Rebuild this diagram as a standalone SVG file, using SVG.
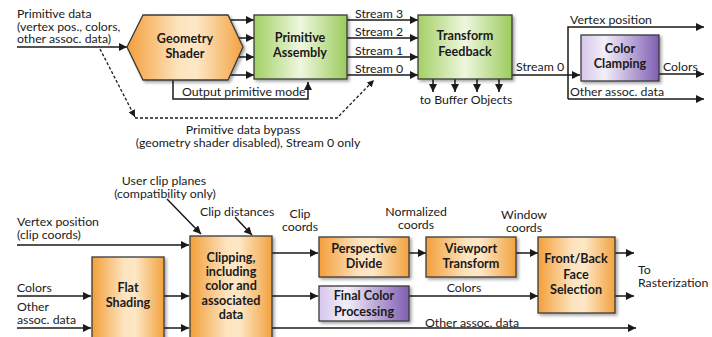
<svg xmlns="http://www.w3.org/2000/svg" width="712" height="337" viewBox="0 0 712 337">
<defs>
<linearGradient id="gOr" x1="0" y1="0" x2="1" y2="0">
<stop offset="0" stop-color="#f39f3a"/><stop offset="0.45" stop-color="#fde4c0"/><stop offset="0.6" stop-color="#fde7c6"/><stop offset="1" stop-color="#f3a240"/>
</linearGradient>
<linearGradient id="gGr" x1="0" y1="0" x2="1" y2="0">
<stop offset="0" stop-color="#a3d065"/><stop offset="0.5" stop-color="#eef7df"/><stop offset="1" stop-color="#9ccb5c"/>
</linearGradient>
<linearGradient id="gPu" x1="0" y1="0" x2="1" y2="0">
<stop offset="0" stop-color="#d5c6eb"/><stop offset="0.3" stop-color="#f3eff9"/><stop offset="1" stop-color="#7f5eb3"/>
</linearGradient>
<filter id="sh" x="-10%" y="-10%" width="130%" height="130%">
<feDropShadow dx="2" dy="2" stdDeviation="1.5" flood-color="#000" flood-opacity="0.35"/>
</filter>
<marker id="ah" markerUnits="userSpaceOnUse" markerWidth="9" markerHeight="9" refX="8" refY="4" orient="auto">
<path d="M0,0 L8,4 L0,8 z" fill="#1a1a1a"/>
</marker>
<marker id="ahs" markerUnits="userSpaceOnUse" markerWidth="8" markerHeight="8" refX="7" refY="3.5" orient="auto">
<path d="M0,0 L7,3.5 L0,7 z" fill="#1a1a1a"/>
</marker>
</defs>
<style>
text{font-family:Lato,"Liberation Sans",sans-serif;font-size:12.3px;fill:#1a1a1a}
.b{font-weight:bold;text-anchor:middle;font-size:12.6px}
.m{text-anchor:middle}
.box{stroke:#3a3a3a;stroke-width:1.3;filter:url(#sh)}
.or{fill:url(#gOr)}
.gr{fill:url(#gGr)}
.pu{fill:url(#gPu)}
.c{fill:none;stroke:#1a1a1a;stroke-width:1.5}
.a{marker-end:url(#ah)}
.d{fill:none;stroke:#1a1a1a;stroke-width:1.3;stroke-dasharray:3,2;marker-end:url(#ahs)}
</style>

<g id="connectors">
<path class="c a" d="M17,47 H127"/>
<path class="c a" d="M230,20 H254"/>
<path class="c a" d="M239,38 H254"/>
<path class="c a" d="M239,57 H254"/>
<path class="c a" d="M230,75 H254"/>
<path class="c a" d="M173,80 V99 H308 V82"/>
<path class="c a" d="M347,20 H418"/>
<path class="c a" d="M347,38 H418"/>
<path class="c a" d="M347,57 H418"/>
<path class="c a" d="M347,75 H418"/>
<path class="c a" d="M433,79 V92"/>
<path class="c a" d="M455,79 V92"/>
<path class="c a" d="M477,79 V92"/>
<path class="c a" d="M499,79 V92"/>
<path class="c a" d="M512,75 H580"/>
<path class="c a" d="M568,99 V27 H704"/>
<path class="c a" d="M568,99 H704"/>
<path class="c a" d="M659,74 H704"/>
<path class="d" d="M100,49 L135,117"/>
<path class="d" d="M135,118 H337 L374,80"/>

<path class="c a" d="M17,245 H189"/>
<path class="c a" d="M17,296 H91"/>
<path class="c a" d="M17,328 H91"/>
<path class="c a" d="M164,296 H189"/>
<path class="c a" d="M164,328 H189"/>
<path class="c a" d="M167,199 L201,234"/>
<path class="c a" d="M235,217 L252,235"/>
<path class="c a" d="M272,253 H318"/>
<path class="c a" d="M272,296 H318"/>
<path class="c a" d="M272,328 H636"/>
<path class="c a" d="M409,253 H426"/>
<path class="c a" d="M516,253 H538"/>
<path class="c a" d="M409,296 H538"/>
<path class="c a" d="M615,253 H634"/>
<path class="c a" d="M615,296 H634"/>
</g>

<g id="labels">
<text x="17" y="18">Primitive data</text>
<text x="17" y="30.5">(vertex pos., colors,</text>
<text x="17" y="43">other assoc. data)</text>
<text x="182" y="96">Output primitive mode</text>
<text x="355" y="18">Stream 3</text>
<text x="355" y="36">Stream 2</text>
<text x="355" y="55">Stream 1</text>
<text x="355" y="73">Stream 0</text>
<text class="m" x="466" y="104">to Buffer Objects</text>
<text x="516" y="71">Stream 0</text>
<text x="570" y="24">Vertex position</text>
<text x="663" y="71">Colors</text>
<text x="570" y="96">Other assoc. data</text>
<text class="m" x="243" y="134">Primitive data bypass</text>
<text class="m" x="248" y="147">(geometry shader disabled), Stream 0 only</text>

<text class="m" x="164" y="185">User clip planes</text>
<text class="m" x="165" y="198">(compatibility only)</text>
<text x="200" y="216">Clip distances</text>
<text class="m" x="300" y="218">Clip</text>
<text class="m" x="300" y="231">coords</text>
<text x="17" y="226">Vertex position</text>
<text x="17" y="239">(clip coords)</text>
<text x="17" y="292">Colors</text>
<text x="17" y="311">Other</text>
<text x="17" y="324">assoc. data</text>
<text class="m" x="416" y="216">Normalized</text>
<text class="m" x="416" y="229">coords</text>
<text class="m" x="524" y="219">Window</text>
<text class="m" x="524" y="232">coords</text>
<text class="m" x="464" y="292">Colors</text>
<text x="425" y="327">Other assoc. data</text>
<text x="638" y="274">To</text>
<text x="638" y="287">Rasterization</text>
</g>

<g id="geometry-shader">
<polygon class="box or" points="127,47 143,15 228,15 243,47 228,80 143,80"/>
<text class="b" x="185" y="43">Geometry</text>
<text class="b" x="185" y="58">Shader</text>
</g>
<g id="primitive-assembly">
<rect class="box gr" x="254" y="15" width="93" height="64"/>
<text class="b" x="300" y="42">Primitive</text>
<text class="b" x="300" y="57">Assembly</text>
</g>
<g id="transform-feedback">
<rect class="box gr" x="418" y="15" width="94" height="64"/>
<text class="b" x="465" y="40">Transform</text>
<text class="b" x="465" y="56">Feedback</text>
</g>
<g id="color-clamping">
<rect class="box pu" x="581" y="35" width="78" height="46"/>
<text class="b" x="620" y="53">Color</text>
<text class="b" x="620" y="68">Clamping</text>
</g>

<g id="flat-shading">
<rect class="box or" x="92" y="257" width="72" height="100"/>
<text class="b" x="128" y="292">Flat</text>
<text class="b" x="128" y="307">Shading</text>
</g>
<g id="clipping">
<rect class="box or" x="190" y="236" width="82" height="120"/>
<text class="b" x="231" y="262">Clipping,</text>
<text class="b" x="231" y="276">including</text>
<text class="b" x="231" y="290">color and</text>
<text class="b" x="231" y="305">associated</text>
<text class="b" x="231" y="319">data</text>
</g>
<g id="perspective-divide">
<rect class="box or" x="319" y="237" width="90" height="40"/>
<text class="b" x="364" y="253">Perspective</text>
<text class="b" x="364" y="268">Divide</text>
</g>
<g id="final-color-processing">
<rect class="box pu" x="319" y="286" width="90" height="35"/>
<text class="b" x="364" y="300">Final Color</text>
<text class="b" x="364" y="316">Processing</text>
</g>
<g id="viewport-transform">
<rect class="box or" x="426" y="237" width="90" height="40"/>
<text class="b" x="471" y="253">Viewport</text>
<text class="b" x="471" y="268">Transform</text>
</g>
<g id="front-back-face-selection">
<rect class="box or" x="538" y="237" width="77" height="76"/>
<text class="b" x="576" y="263">Front/Back</text>
<text class="b" x="576" y="279">Face</text>
<text class="b" x="576" y="294">Selection</text>
</g>
</svg>
